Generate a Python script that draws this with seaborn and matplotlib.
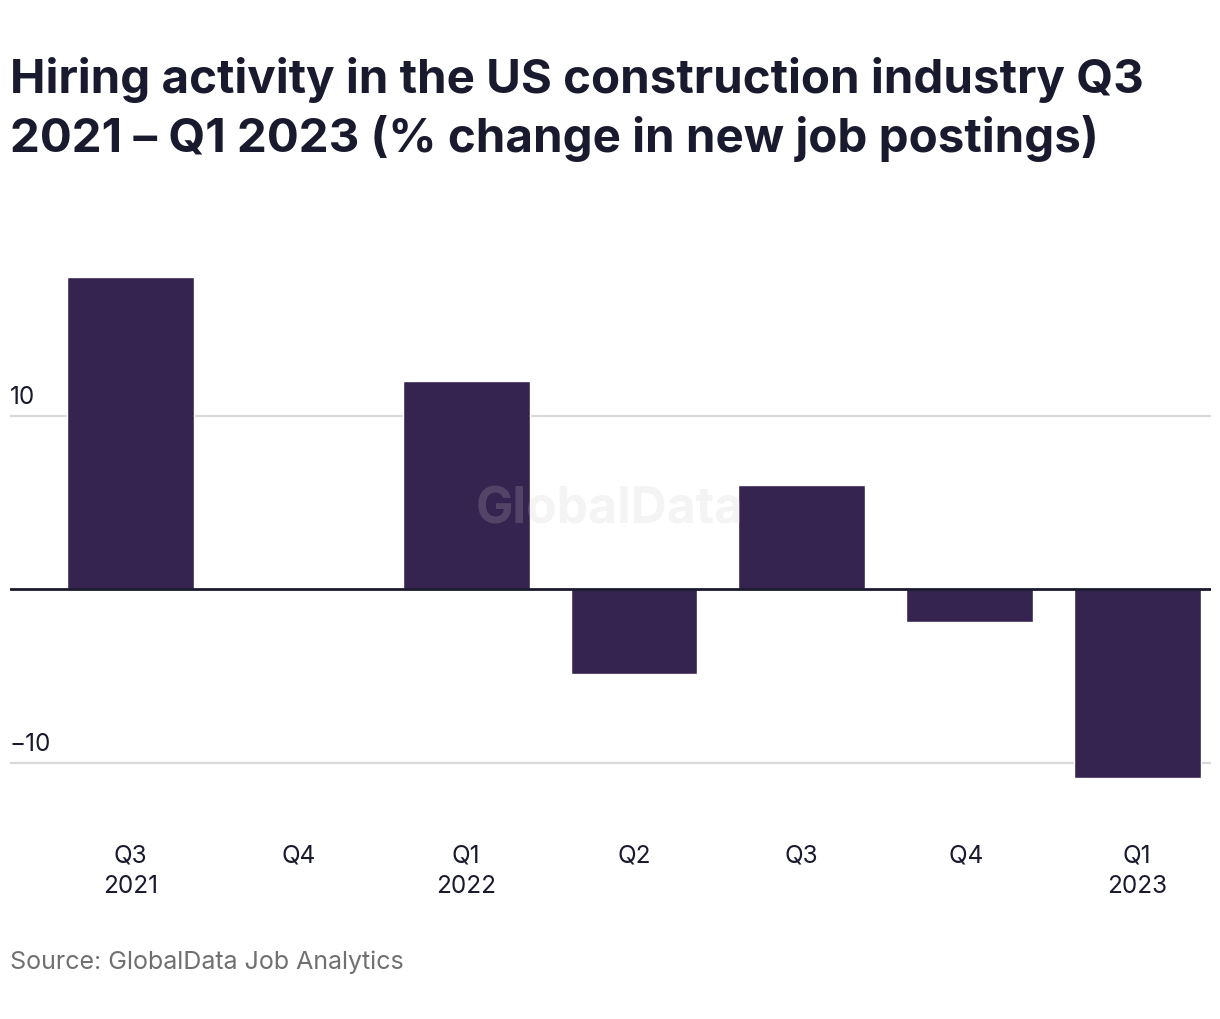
import pandas as pd
import seaborn as sns
import matplotlib.pyplot as plt

# Data
quarters = ["Q3\n2021", "Q4", "Q1\n2022", "Q2", "Q3", "Q4 ", "Q1\n2023"]
pct_change = [18.0, 0.0, 12.0, -4.9, 6.0, -1.9, -10.9]
y_ticks = [-10, 10]

data = pd.DataFrame({"quarter": quarters, "change": pct_change})

sns.set_style("white")
plt.rcParams["font.family"] = ["Inter", "DejaVu Sans"]

W, H = 1220, 1020
fig = plt.figure(figsize=(W / 100, H / 100), dpi=100)
# axes placed in pixel terms: left 10, right 1211, top 250, bottom 800
ax = fig.add_axes([10 / W, 1 - 800 / H, 1201 / W, 550 / H])

sns.barplot(data=data, x="quarter", y="change", color="#362450",
            width=0.755, saturation=1, ax=ax, zorder=3)

ax.set_xlim(-0.72, 6.44)
ax.set_ylim(-12.1, 19.6)

# gridlines and zero line
for t in y_ticks:
    ax.axhline(t, color="#d9d9d9", lw=1.6, zorder=1)
    ax.text(0, t + 0.45, f"{t:d}".replace("-", "\u2212"), transform=ax.get_yaxis_transform(),
            ha="left", va="bottom", fontsize=17.5, color="#1a1a2e")
ax.axhline(0, color="#1a1a2e", lw=2, zorder=4)

ax.set_yticks([])
ax.tick_params(axis="x", length=0, pad=32, labelsize=17.5, labelcolor="#1a1a2e")
for lbl in ax.get_xticklabels():
    lbl.set_linespacing(1.4)
    lbl.set_verticalalignment("top")
ax.set_xlabel("")
ax.set_ylabel("")
sns.despine(ax=ax, left=True, bottom=True)

# watermark
ax.text(0.5, 1 - 510 / H, "GlobalData", transform=fig.transFigure, ha="center", va="center",
        fontsize=36, fontweight="bold", color="#c8c8c8", alpha=0.2, zorder=5)

fig.text(10 / W, 1 - 57 / H,
         "Hiring activity in the US construction industry Q3\n2021 \u2013 Q1 2023 (% change in new job postings)",
         ha="left", va="top", fontsize=34.2, fontweight="bold", color="#1a1a2e", linespacing=1.33)

fig.text(10 / W, 1 - 962 / H, "Source: GlobalData Job Analytics", ha="left", va="center",
         fontsize=18, color="#707070")

fig.savefig("out.png", dpi=100)
